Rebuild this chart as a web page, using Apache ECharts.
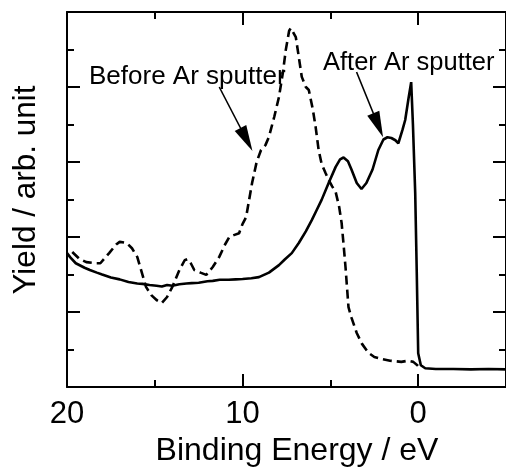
<!DOCTYPE html>
<html>
<head>
<meta charset="utf-8">
<script src="https://cdn.jsdelivr.net/npm/echarts@6/dist/echarts.min.js"></script>
<style>
html,body{margin:0;padding:0;background:#fff;}
#chart{width:506px;height:474px;}
</style>
</head>
<body>
<div id="chart"></div>
<script>
// Binding energy (eV), yield (arb. unit)
const beforeSputter = [
  [19.7,3.6],[19.3,3.42],[18.9,3.33],[18.4,3.3],[18.1,3.3],[17.6,3.57],[17.2,3.8],[17.0,3.87],
  [16.6,3.84],[16.3,3.7],[16.0,3.47],[15.5,2.67],[15.2,2.45],[14.9,2.32],[14.6,2.24],[14.3,2.4],
  [14.0,2.67],[13.6,3.12],[13.3,3.38],[13.14,3.41],[12.95,3.3],[12.75,3.12],[12.4,3.05],[12.07,2.99],
  [11.7,3.2],[11.33,3.47],[11.0,3.8],[10.76,4.0],[10.5,4.05],[10.2,4.1],[10.0,4.35],[9.8,4.53],
  [9.46,5.44],[9.2,6.0],[8.95,6.32],[8.7,6.45],[8.5,6.67],[8.2,7.2],[7.93,7.73],[7.7,8.4],
  [7.54,8.99],[7.35,9.5],[7.25,9.57],[6.97,9.33],[6.8,8.8],[6.63,8.27],[6.4,8.0],[6.23,7.92],
  [6.0,7.4],[5.84,6.93],[5.67,6.32],[5.5,5.95],[5.27,5.7],[5.1,5.52],[4.9,5.35],[4.7,5.2],
  [4.5,4.8],[4.36,4.37],[4.25,3.8],[4.14,3.2],[3.97,2.13],[3.8,1.85],[3.5,1.44],[3.2,1.15],
  [2.83,0.91],[2.5,0.8],[2.1,0.75],[1.6,0.7],[0.96,0.67],[0.6,0.7],[0.28,0.67],[0.05,0.58],[-0.1,0.5]
];
const afterSputter = [
  [20,3.57],[19.8,3.45],[19.5,3.3],[19.0,3.18],[18.7,3.12],[18.3,3.05],[18.0,3.0],[17.5,2.92],
  [17.0,2.87],[16.5,2.8],[16.0,2.76],[15.7,2.75],[15.3,2.72],[14.9,2.7],[14.6,2.68],[14.3,2.72],
  [14.0,2.7],[13.6,2.74],[13.2,2.76],[12.9,2.77],[12.5,2.78],[12.0,2.82],[11.7,2.83],[11.3,2.86],
  [10.8,2.86],[10.4,2.87],[10.0,2.88],[9.5,2.9],[9.07,2.93],[8.5,3.05],[7.93,3.25],[7.6,3.4],
  [7.2,3.57],[6.8,3.84],[6.4,4.15],[6.06,4.45],[5.8,4.7],[5.5,4.99],[5.1,5.44],[4.7,5.87],
  [4.45,6.07],[4.25,6.12],[4.0,6.02],[3.8,5.8],[3.5,5.44],[3.23,5.28],[2.95,5.44],[2.6,5.8],
  [2.27,6.32],[1.98,6.6],[1.75,6.66],[1.53,6.64],[1.3,6.58],[1.13,6.5],[0.9,6.85],[0.74,7.12],
  [0.55,7.7],[0.4,8.13],[0.3,7.0],[0.17,5.17],[0.08,3.0],[0.0,0.9],[-0.15,0.58],[-0.4,0.5],
  [-1.0,0.48],[-2.0,0.48],[-3.0,0.47],[-4.0,0.48],[-5.0,0.47]
];
const xMajorTicks = [0, 10, 20];
const xMinorTicks = [5, 15];
const xTitle = 'Binding Energy / eV';
const yTitle = 'Yield / arb. unit';
const labelBefore = 'Before Ar sputter';
const labelAfter = 'After Ar sputter';
// arrows: [start, end] in data coordinates
const arrowBefore = [[11.33, 8.0], [9.78, 6.6]];
const arrowAfter = [[3.51, 8.4], [2.28, 6.98]];

const FONT = '"Liberation Sans", Arial, Helvetica, sans-serif';
const black = '#000';

function xAxisCfg(pos, ticks, len, showLine, showLabel) {
  return {
    type: 'value', position: pos, min: -5, max: 20, interval: 5, inverse: true,
    axisLine: {show: showLine, onZero: false, lineStyle: {color: black, width: 2}},
    axisTick: {show: true, inside: true, length: len, customValues: ticks, lineStyle: {color: black, width: 2}},
    axisLabel: {show: showLabel, customValues: ticks, color: black, fontSize: 31, fontFamily: FONT, margin: 12},
    splitLine: {show: false}
  };
}
function yAxisCfg(pos) {
  return {
    type: 'value', position: pos, min: 0, max: 10, interval: 2,
    axisLine: {show: true, onZero: false, lineStyle: {color: black, width: 2}},
    axisTick: {show: true, inside: true, length: 13, lineStyle: {color: black, width: 2}},
    minorTick: {show: true, splitNumber: 2, length: 7, lineStyle: {color: black, width: 2}},
    axisLabel: {show: false},
    splitLine: {show: false}, minorSplitLine: {show: false}
  };
}

const chart = echarts.init(document.getElementById('chart'), null, {renderer: 'canvas'});
const xa0 = xAxisCfg('bottom', xMajorTicks, 13, true, true);
xa0.name = xTitle;
xa0.nameLocation = 'middle';
xa0.nameGap = 30;
xa0.nameTextStyle = {color: black, fontSize: 32, fontFamily: FONT, padding: [0, 0, 0, 21]};
const ya0 = yAxisCfg('left');
ya0.name = yTitle;
ya0.nameLocation = 'middle';
ya0.nameGap = 25;
ya0.nameTextStyle = {color: black, fontSize: 31.5, fontFamily: FONT, padding: [0, 0, 0, 19]};

chart.setOption({
  animation: false,
  backgroundColor: '#fff',
  grid: {left: 67, top: 12, right: -2, bottom: 87, containLabel: false},
  xAxis: [
    xa0,
    xAxisCfg('bottom', xMinorTicks, 7, false, false),
    xAxisCfg('top', xMajorTicks, 13, true, false),
    xAxisCfg('top', xMinorTicks, 7, false, false)
  ],
  yAxis: [ya0, yAxisCfg('right')],
  graphic: [
    {type: 'text', left: 89, top: 64, style: {text: labelBefore, fill: black, font: '26px ' + FONT, verticalAlign: 'middle'}},
    {type: 'text', left: 323, top: 50, style: {text: labelAfter, fill: black, font: '25.5px ' + FONT, verticalAlign: 'middle'}}
  ],
  series: [
    {
      type: 'line', name: labelBefore, data: beforeSputter, xAxisIndex: 0, yAxisIndex: 0,
      showSymbol: false, symbol: 'none', clip: true,
      lineStyle: {color: black, width: 2.6, type: [9, 5]}
    },
    {
      type: 'line', name: labelAfter, data: afterSputter, xAxisIndex: 0, yAxisIndex: 0,
      showSymbol: false, symbol: 'none', clip: true,
      lineStyle: {color: black, width: 2.6, type: 'solid'},
      markLine: {
        silent: true, animation: false,
        symbol: ['none', 'triangle'], symbolSize: [13, 26],
        lineStyle: {color: black, width: 1.6, type: 'solid'},
        label: {show: false},
        data: [
          [{coord: arrowBefore[0]}, {coord: arrowBefore[1]}],
          [{coord: arrowAfter[0]}, {coord: arrowAfter[1]}]
        ]
      }
    }
  ]
});
</script>
</body>
</html>
